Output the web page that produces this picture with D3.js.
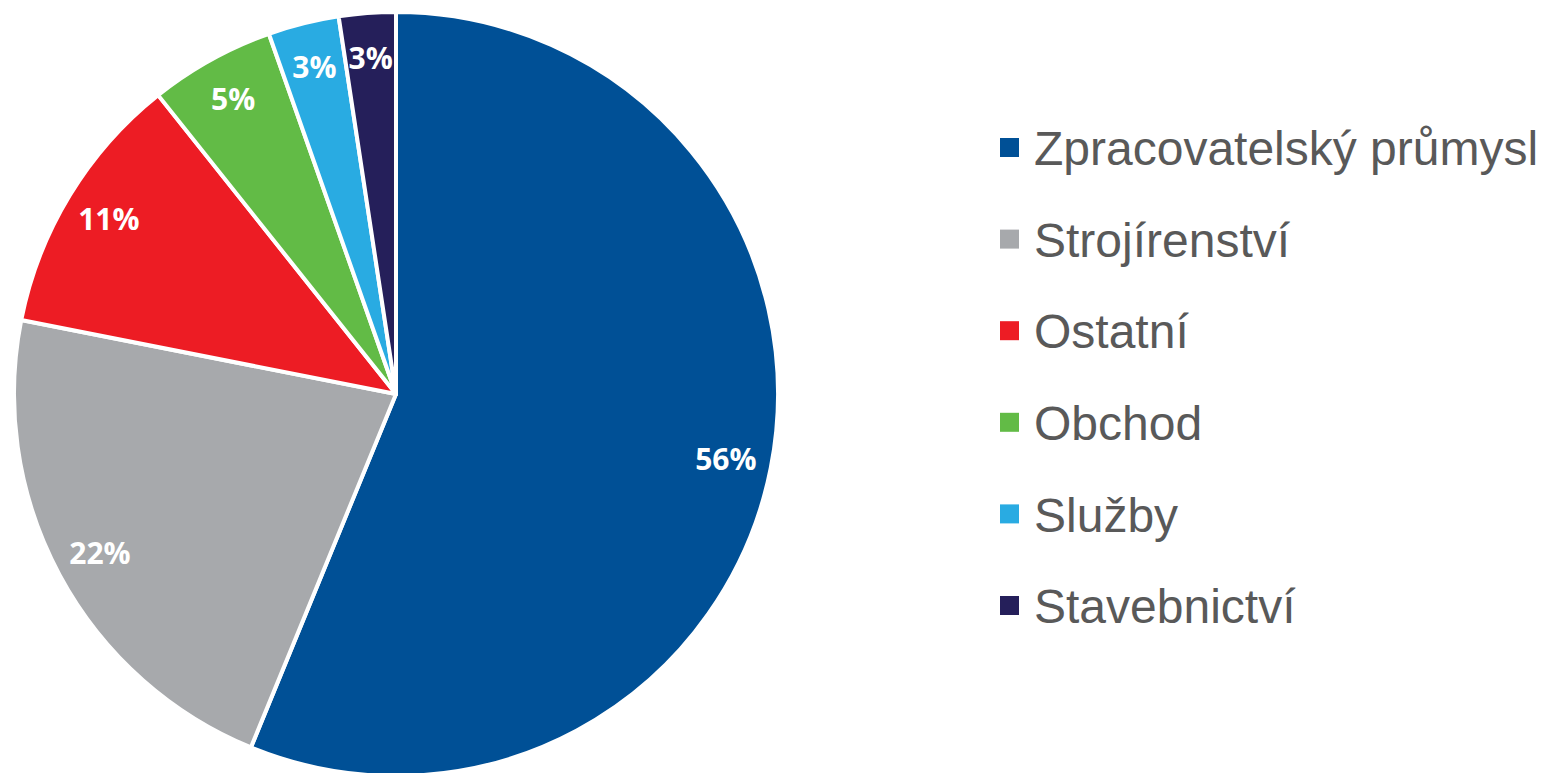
<!DOCTYPE html>
<html>
<head>
<meta charset="utf-8">
<script src="https://cdn.jsdelivr.net/npm/d3@7"></script>
<style>
  body { margin: 0; background: #fff; }
  svg { display: block; }
</style>
</head>
<body>
<svg width="1542" height="773"></svg>
<script>
// sector shares (percent), clockwise from 12 o'clock
var categories = ["Zpracovatelský průmysl", "Strojírenství", "Ostatní", "Obchod", "Služby", "Stavebnictví"];
var values = [56.2, 21.9, 11.2, 5.3, 3.0, 2.4];
var labels = ["56%", "22%", "11%", "5%", "3%", "3%"];
var colors = ["#005096", "#A7A9AC", "#ED1C24", "#62BB46", "#29ABE2", "#251F5A"];

var svg = d3.select("svg"),
    width = +svg.attr("width"),
    height = +svg.attr("height");

var cx = 396, cy = 394, r = 382;

var data = categories.map(function(c, i) {
  return { name: c, value: values[i], label: labels[i], color: colors[i] };
});

var pie = d3.pie()
    .sort(null)
    .value(function(d) { return d.value; });

var arc = d3.arc().innerRadius(0).outerRadius(r);
var labelArc = d3.arc().innerRadius(r * 0.88).outerRadius(r * 0.88);

var g = svg.append("g")
    .attr("transform", "translate(" + cx + "," + cy + ")");

var slices = g.selectAll("g.slice")
  .data(pie(data))
  .enter().append("g")
    .attr("class", "slice");

slices.append("path")
    .attr("d", arc)
    .attr("fill", function(d) { return d.data.color; })
    .attr("stroke", "#fff")
    .attr("stroke-width", 4)
    .attr("stroke-linejoin", "round");

slices.append("text")
    .attr("transform", function(d) { return "translate(" + labelArc.centroid(d) + ")"; })
    .attr("text-anchor", "middle")
    .attr("dy", "0.35em")
    .attr("fill", "#fff")
    .style("font-family", "'Open Sans', sans-serif")
    .style("font-weight", "bold")
    .style("font-size", "30px")
    .text(function(d) { return d.data.label; });

// legend
var legend = svg.append("g")
    .attr("class", "legend")
  .selectAll("g")
  .data(data)
  .enter().append("g")
    .attr("transform", function(d, i) { return "translate(1000," + (148 + i * 91.6) + ")"; });

legend.append("rect")
    .attr("x", 0)
    .attr("y", -10)
    .attr("width", 19)
    .attr("height", 19)
    .attr("fill", function(d) { return d.color; });

legend.append("text")
    .attr("x", 34)
    .attr("dy", "0.36em")
    .attr("fill", "#595959")
    .style("font-family", "'Liberation Sans', Arial, sans-serif")
    .style("font-size", "48px")
    .text(function(d) { return d.name; });
</script>
</body>
</html>
